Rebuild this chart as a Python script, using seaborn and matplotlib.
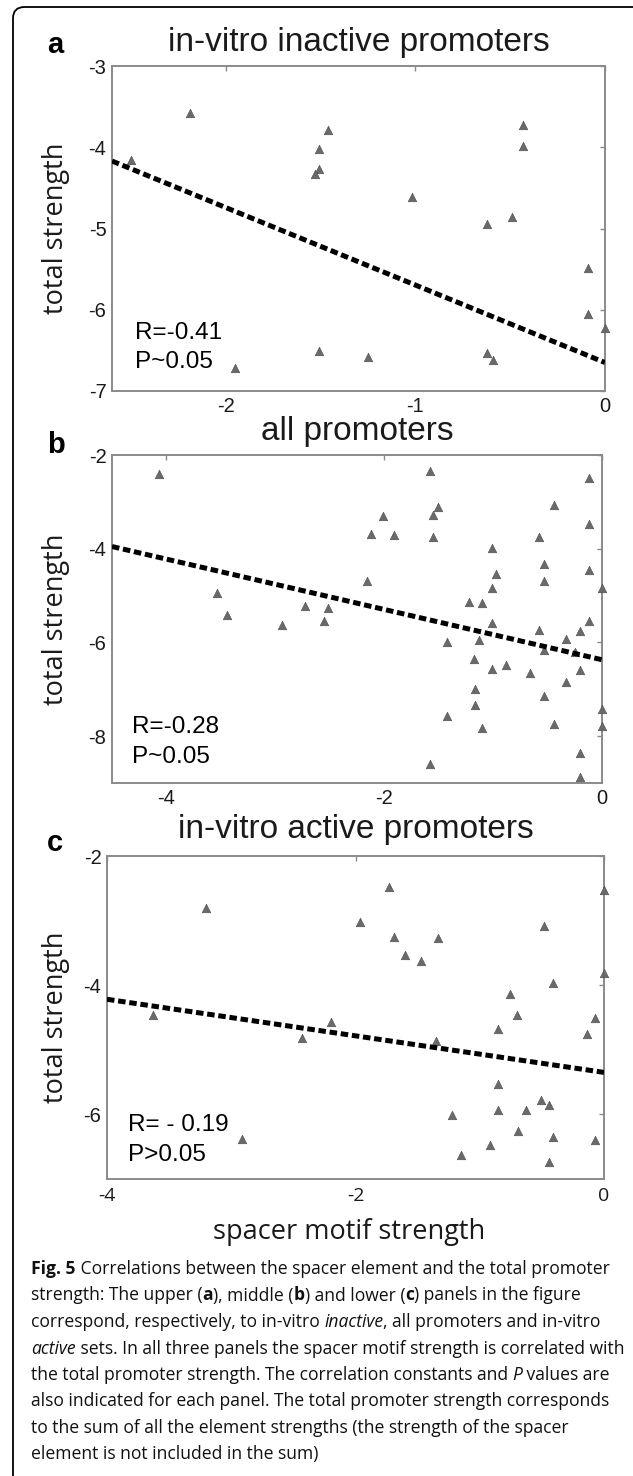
import numpy as np
import pandas as pd
import seaborn as sns
import matplotlib.pyplot as plt
from matplotlib.patches import FancyBboxPatch

# ---------------------------------------------------------------
# data (spacer motif strength vs total strength)
# ---------------------------------------------------------------

# a: in-vitro inactive promoters
a_spacer = [-2.50, -2.19, -1.51, -1.46, -1.51, -1.53, -1.02, -0.43, -0.43, -0.62,
            -0.49, -0.09, -0.09, 0.00, -1.51, -1.25, -0.62, -0.59, -1.95]
a_total = [-4.16, -3.58, -4.02, -3.79, -4.27, -4.33, -4.61, -3.72, -3.99, -4.94,
           -4.86, -5.48, -6.05, -6.23, -6.51, -6.58, -6.53, -6.62, -6.72]
a_fit = (-6.65, -0.954)  # intercept, slope

# b: all promoters
b_spacer = [-2.12, -2.01, -1.91, -1.55, -1.51, -1.55, -0.44, -0.58, -0.12, -1.01,
            -0.53, -0.12, -0.97, -0.53, -2.16, -1.01, 0.00, -3.54, -1.22, -1.10,
            -2.73, -2.52, -3.44, -2.55, -2.94, -4.07, -1.58, -0.12, -1.01, -0.12,
            -0.58, -0.20, -1.42, -1.13, -0.33, -0.53, -0.25, -1.18, -1.01, -0.88,
            -0.66, -0.20, -0.33, -1.17, -1.17, -0.53, -1.42, -1.10, -0.44, 0.00,
            0.00, -0.20, -0.20, -1.58]
b_total = [-3.68, -3.31, -3.70, -3.27, -3.10, -3.74, -3.06, -3.74, -3.48, -3.98,
           -4.33, -4.46, -4.53, -4.69, -4.69, -4.84, -4.83, -4.95, -5.13, -5.15,
           -5.22, -5.27, -5.41, -5.54, -5.63, -2.41, -2.35, -2.49, -5.59, -5.55,
           -5.73, -5.75, -5.99, -5.94, -5.92, -6.16, -6.20, -6.35, -6.57, -6.48,
           -6.65, -6.58, -6.85, -7.00, -7.34, -7.14, -7.58, -7.83, -7.75, -7.43,
           -7.78, -8.36, -8.88, -8.59]
b_fit = (-6.37, -0.537)

# c: in-vitro active promoters
c_spacer = [-3.20, -1.73, 0.00, -1.96, -1.69, -1.34, -1.60, -1.47, -0.48, 0.00,
            -0.41, -0.76, -0.70, -0.07, -0.85, -0.14, -3.63, -2.20, -2.43, -1.35,
            -0.85, -0.51, -0.44, -0.85, -0.63, -1.22, -0.69, -0.41, -0.07, -0.92,
            -1.15, -0.44, -2.91]
c_total = [-2.80, -2.48, -2.53, -3.02, -3.26, -3.27, -3.54, -3.62, -3.08, -3.81,
           -3.96, -4.14, -4.46, -4.51, -4.68, -4.76, -4.46, -4.57, -4.81, -4.86,
           -5.53, -5.77, -5.86, -5.93, -5.93, -6.01, -6.26, -6.35, -6.39, -6.47,
           -6.63, -6.74, -6.38]
c_fit = (-5.35, -0.283)

titles = ["in-vitro inactive promoters", "all promoters", "in-vitro active promoters"]
letters = ["a", "b", "c"]
stats = [("R=-0.41", "P~0.05"), ("R=-0.28", "P~0.05"), ("R= - 0.19", "P>0.05")]

caption = [
    [("Fig. 5", "b"), (" Correlations between the spacer element and the total promoter", "")],
    [("strength: The upper (", ""), ("a", "b"), ("), middle (", ""), ("b", "b"),
     (") and lower (", ""), ("c", "b"), (") panels in the figure", "")],
    [("correspond, respectively, to in-vitro ", ""), ("inactive", "i"),
     (", all promoters and in-vitro", "")],
    [("active", "i"), (" sets. In all three panels the spacer motif strength is correlated with", "")],
    [("the total promoter strength. The correlation constants and ", ""), ("P", "i"),
     (" values are", "")],
    [("also indicated for each panel. The total promoter strength corresponds", "")],
    [("to the sum of all the element strengths (the strength of the spacer", "")],
    [("element is not included in the sum)", "")],
]

# ---------------------------------------------------------------
# figure
# ---------------------------------------------------------------
sns.set_style("white")
plt.rcParams["font.family"] = ["Liberation Sans", "DejaVu Sans"]

W, H = 633, 1476
fig = plt.figure(figsize=(W / 100, H / 100), dpi=100)
fig.patch.set_facecolor("white")

SPINE = "#8a8a8a"
TXT = "#1a1a1a"
LABEL_FONT = ["Open Sans", "DejaVu Sans"]


def fx(px):
    return px / W


def fy(py):
    return 1 - py / H


def add_axes_px(left, top, right, bottom):
    return fig.add_axes([fx(left), fy(bottom), (right - left) / W, (bottom - top) / H])


def draw_panel(ax, xs, ys, fit, xlim, ylim, xticks, yticks):
    pts = pd.DataFrame({"spacer": xs, "total": ys})
    sns.scatterplot(data=pts, x="spacer", y="total", marker="^", s=38,
                    color="#6a6a6a", edgecolor="#4a4a4a", linewidth=0.4,
                    clip_on=False, zorder=3, ax=ax)
    line = pd.DataFrame({"spacer": list(xlim)})
    line["total"] = fit[0] + fit[1] * line["spacer"]
    sns.lineplot(data=line, x="spacer", y="total", color="black", lw=3.6,
                 linestyle=(0, (1.5, 0.75)), zorder=4, ax=ax)
    ax.set_xlim(*xlim)
    ax.set_ylim(*ylim)
    ax.set_xticks(xticks)
    ax.set_yticks(yticks)
    ax.set_xticklabels([f"{t:g}" for t in xticks])
    ax.set_yticklabels([f"{t:g}" for t in yticks])
    ax.set_xlabel("")
    ax.set_ylabel("")
    ax.tick_params(direction="in", length=3.5, width=1.0, color=SPINE,
                   top=True, right=True, labelsize=14.5, labelcolor=TXT, pad=4)
    for sp in ax.spines.values():
        sp.set_color(SPINE)
        sp.set_linewidth(1.4)
        sp.set_visible(True)


# axes boxes in pixel coordinates (left, top, right, bottom)
boxes = [(112, 66, 605, 391), (112, 455, 602, 783), (107, 856, 604, 1179)]
data = [(a_spacer, a_total, a_fit, (-2.6, 0), (-7, -3), [-2, -1, 0], [-7, -6, -5, -4, -3]),
        (b_spacer, b_total, b_fit, (-4.5, 0), (-9, -2), [-4, -2, 0], [-8, -6, -4, -2]),
        (c_spacer, c_total, c_fit, (-4, 0), (-7, -2), [-4, -2, 0], [-6, -4, -2])]
title_base = [51, 440, 838]
letter_base = [53, 453, 851]
stat_y = [(333, 362), (727, 757), (1125, 1155)]
stat_x = [135, 132, 128]

axes = []
for i, (box, d) in enumerate(zip(boxes, data)):
    ax = add_axes_px(*box)
    draw_panel(ax, *d)
    axes.append(ax)
    left, top, right, bottom = box
    fig.text(fx((left + right) / 2), fy(title_base[i]), titles[i], ha="center",
             va="baseline", fontsize=24, color=TXT)
    fig.text(fx(47), fy(letter_base[i]), letters[i], ha="left", va="baseline",
             fontsize=21, fontweight="bold", color="black")
    fig.text(fx(56), fy((top + bottom) / 2), "total strength", rotation=90,
             ha="center", va="center", fontsize=19.5, family=LABEL_FONT, color=TXT)
    for txt, yy in zip(stats[i], stat_y[i]):
        fig.text(fx(stat_x[i]), fy(yy), txt, ha="left", va="center",
                 fontsize=17.5, color="black")

# bottom panel uses a different face for its x tick labels
for lab in axes[2].get_xticklabels():
    lab.set_family(LABEL_FONT)
    lab.set_fontsize(14)
axes[2].tick_params(axis="x", pad=6)

fig.text(fx(349), fy(1232), "spacer motif strength", ha="center", va="center",
         fontsize=19.5, family=LABEL_FONT, color=TXT)

# caption, laid out run by run
renderer = fig.canvas.get_renderer()
CAP_SIZE = 12.65


def run_kw(style):
    kw = {"fontsize": CAP_SIZE, "family": LABEL_FONT, "color": "#111111"}
    if style == "b":
        kw["fontweight"] = "bold"
    if style == "i":
        kw["fontstyle"] = "italic"
    return kw


def advance(txt, style):
    kw = run_kw(style)
    t1 = fig.text(0, 0, "|" + txt + "|", **kw)
    t2 = fig.text(0, 0, "||", **kw)
    w = t1.get_window_extent(renderer).width - t2.get_window_extent(renderer).width
    t1.remove()
    t2.remove()
    return w


for k, runs in enumerate(caption):
    x = 31
    y = 1274 + 26.5 * k
    for txt, style in runs:
        fig.text(fx(x), fy(y), txt, ha="left", va="baseline", **run_kw(style))
        x += advance(txt, style)

# rounded frame round the whole figure
frame = FancyBboxPatch((fx(13), fy(1490)), (645 - 13) / W, (1490 - 7) / H,
                       boxstyle="round,pad=0,rounding_size=0.018",
                       transform=fig.transFigure, fill=False, edgecolor="black",
                       linewidth=1.3, mutation_aspect=W / H)
fig.patches.append(frame)

fig.savefig("out.png", dpi=100, facecolor="white")
